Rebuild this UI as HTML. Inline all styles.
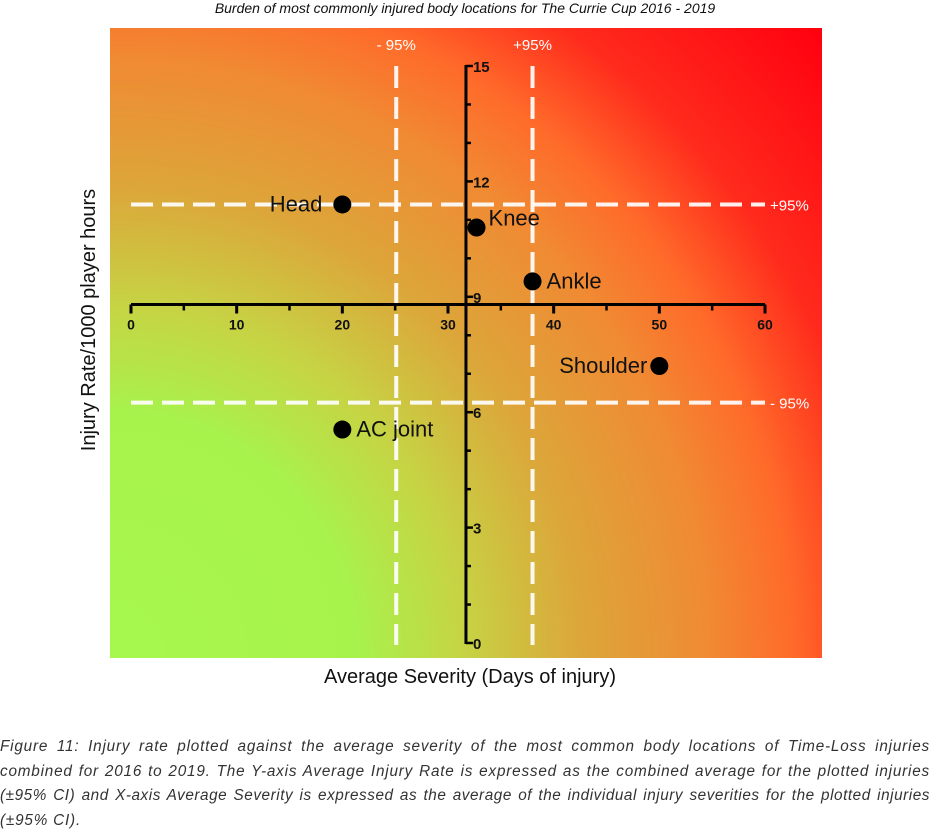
<!DOCTYPE html>
<html><head><meta charset="utf-8"><style>
body{margin:0;width:930px;height:834px;background:#fff;position:relative;overflow:hidden;font-family:"Liberation Sans",sans-serif}
#title{position:absolute;top:0;left:0;width:930px;text-align:center;font-style:italic;font-size:14px;color:#111}
#caption{position:absolute;left:0;top:735px;width:930px;font-style:italic;font-size:15.3px;letter-spacing:0.8px;line-height:24.5px;color:#333}
#caption .l{text-align:justify;text-align-last:justify;white-space:nowrap}
#caption .t{letter-spacing:0.55px}
</style></head><body>
<div id="title">Burden of most commonly injured body locations for The Currie Cup 2016 - 2019</div>
<svg id="chart" width="930" height="720" style="position:absolute;left:0;top:0">
<defs><radialGradient id="bg" gradientUnits="userSpaceOnUse" cx="110" cy="658" r="950">
<stop offset="0" stop-color="#a6f84e"/><stop offset="0.26" stop-color="#a8f24c"/><stop offset="0.37" stop-color="#c6d444"/><stop offset="0.495" stop-color="#dca63a"/><stop offset="0.63" stop-color="#f08a33"/><stop offset="0.72" stop-color="#ff6a2a"/><stop offset="0.82" stop-color="#ff2a1c"/><stop offset="1" stop-color="#ff0010"/></radialGradient></defs>
<rect x="110" y="28" width="712" height="630" fill="url(#bg)"/>
<g id="g"></g>
<text x="95" y="320" transform="rotate(-90 95 320)" text-anchor="middle" font-size="20" fill="#111">Injury Rate/1000 player hours</text>
<text x="470" y="683" text-anchor="middle" font-size="20" fill="#111">Average Severity (Days of injury)</text>
</svg>
<div id="caption">
<div class="l">Figure 11: Injury rate plotted against the average severity of the most common body locations of Time-Loss injuries</div>
<div class="l">combined for 2016 to 2019. The Y-axis Average Injury Rate is expressed as the combined average for the plotted injuries</div>
<div class="l t">(±95% CI) and X-axis Average Severity is expressed as the average of the individual injury severities for the plotted injuries</div>
<div>(±95% CI).</div>
</div>
<script>
const names=["Head","Knee","Ankle","Shoulder","AC joint"];
const severity=[20,32.7,38,50,20];
const rate=[11.4,10.8,9.4,7.2,5.55];
const xTicks=[0,10,20,30,40,50,60];
const yTicks=[0,3,6,9,12,15];
const xCI=[25.1,38];
const yCI=[11.4,6.25];
const xAxisAt=8.8, yAxisAt=31.7;
const X=v=>131+v*(765-131)/60;
const Y=v=>643-v*(643-66)/15;
const NS="http://www.w3.org/2000/svg",g=document.getElementById('g');
function mk(t,a,txt){const e=document.createElementNS(NS,t);for(const k in a)e.setAttribute(k,a[k]);if(txt!=null)e.textContent=txt;g.appendChild(e);return e;}
xCI.forEach((v,i)=>{const e=mk('line',{x1:X(v),x2:X(v),y1:66,y2:645,stroke:'#fff','stroke-width':4,'stroke-dasharray':'22 9',opacity:0.92});


const t=mk('text',{x:X(v),y:50,'text-anchor':'middle','font-size':15,fill:'#fff'},i?'+95%':'- 95%');

});
yCI.forEach((v,i)=>{const e=mk('line',{x1:131,x2:765,y1:Y(v),y2:Y(v),stroke:'#fff','stroke-width':4,'stroke-dasharray':'22 9',opacity:0.92});


const t=mk('text',{x:770,y:Y(v)+6,'font-size':15,fill:'#fff'},i?'- 95%':'+95%');

});
const ya=Y(xAxisAt);
const xa=mk('line',{x1:X(0),x2:X(60),y1:ya,y2:ya,stroke:'#000','stroke-width':3});


for(let v=0;v<=60;v+=5){const big=v%10==0;const t=mk('line',{x1:X(v),x2:X(v),y1:ya,y2:ya+(big?9:6),stroke:'#000','stroke-width':big?3:2.5});

}
xTicks.forEach(v=>{const t=mk('text',{x:X(v),y:ya+25,'text-anchor':'middle','font-size':14,'font-weight':'bold',fill:'#111'},v);

});
const xa2=X(yAxisAt);
const yl=mk('line',{x1:xa2,x2:xa2,y1:Y(15)-1,y2:Y(0)+1,stroke:'#000','stroke-width':3});


for(let v=0;v<=15;v++){const t=mk('line',{x1:xa2,x2:xa2+(v%3==0?7:5),y1:Y(v),y2:Y(v),stroke:'#000','stroke-width':2.5});

}
yTicks.forEach(v=>{const t=mk('text',{x:xa2+7,y:Y(v)+6,'font-size':15,'font-weight':'bold',fill:'#111'},v);

});
const lpos=[[-20,'end',7],[12,'start',-2],[14,'start',7],[-12,'end',7],[14,'start',7]];
names.forEach((n,i)=>{const cx=X(severity[i]),cy=Y(rate[i]);
const c=mk('circle',{cx:cx,cy:cy,r:9,fill:'#000'});


const t=mk('text',{x:cx+lpos[i][0],y:cy+lpos[i][2],'text-anchor':lpos[i][1],'font-size':22,fill:'#111'},n);

});
</script>
</body></html>
